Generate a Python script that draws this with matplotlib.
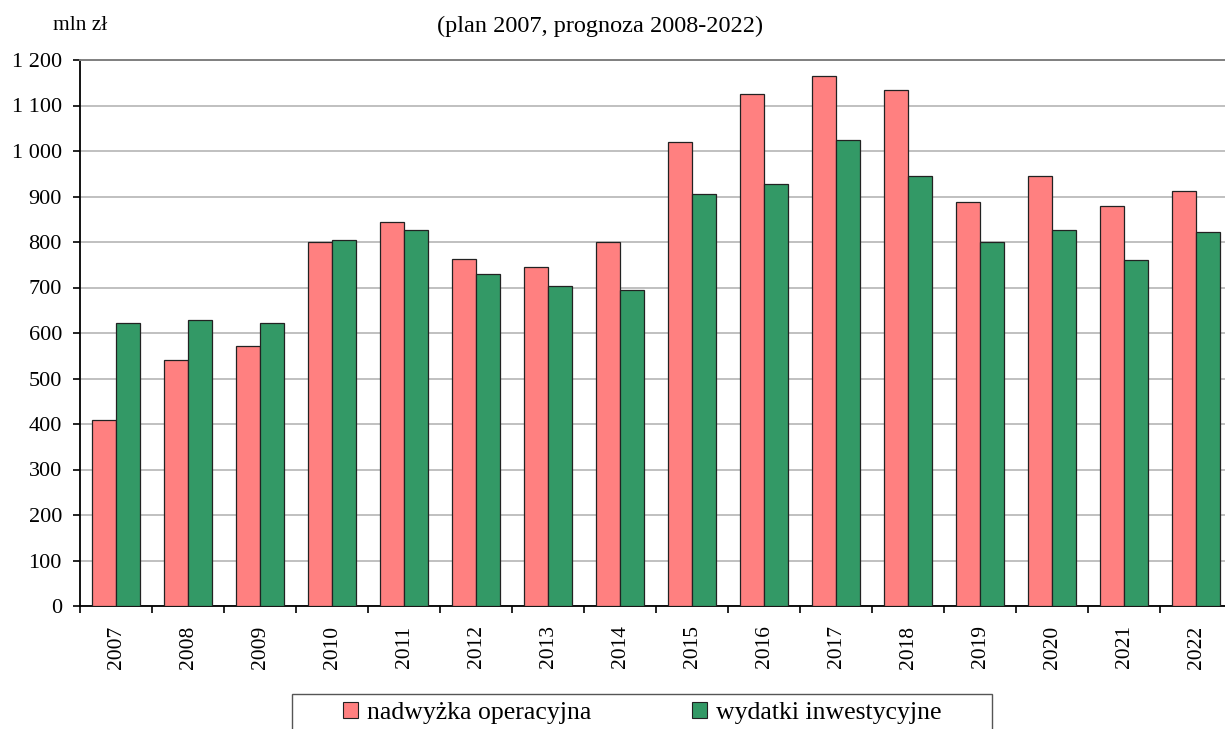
import matplotlib
matplotlib.use("Agg")
import matplotlib.pyplot as plt
import matplotlib.patches as mpatches
from matplotlib.ticker import FuncFormatter, FixedLocator
import numpy as np

years = ["2007", "2008", "2009", "2010", "2011", "2012", "2013", "2014",
         "2015", "2016", "2017", "2018", "2019", "2020", "2021", "2022"]
nadwyzka = [409, 541, 571, 800, 844, 762, 744, 801,
            1020, 1125, 1165, 1135, 888, 946, 880, 911]
wydatki = [623, 629, 623, 804, 826, 730, 703, 694,
           906, 928, 1025, 946, 800, 826, 761, 822]
series_labels = ["nadwyżka operacyjna", "wydatki inwestycyjne"]
title_text = "(plan 2007, prognoza 2008-2022)"
unit_text = "mln zł"

plt.rcParams['font.family'] = ['Liberation Serif', 'DejaVu Serif']

W, H = 1225, 729
fig = plt.figure(figsize=(W / 100, H / 100), dpi=100)
fig.patch.set_facecolor("white")

left, right, bottom, top = 80, 1232.5, 606, 60
ax = fig.add_axes([left / W, 1 - bottom / H, (right - left) / W, (bottom - top) / H])

x = np.arange(len(years))
w = 1 / 3
pink = "#FF8080"
green = "#339966"
edge = "#222222"
ax.bar(x - w / 2, nadwyzka, width=w, color=pink, edgecolor=edge, linewidth=0.9, zorder=3)
ax.bar(x + w / 2, wydatki, width=w, color=green, edgecolor=edge, linewidth=0.9, zorder=3)

ax.set_xlim(-0.5, len(years) - 0.5)
ax.set_ylim(0, 1200)
ax.set_yticks(np.arange(0, 1201, 100))
ax.yaxis.set_major_formatter(FuncFormatter(lambda v, p: f"{int(v):,}".replace(",", " ")))
ax.grid(axis="y", color="#C0C0C0", linewidth=1.4, zorder=0)
ax.set_axisbelow(True)

# x ticks: marks at category boundaries, labels at centers
ax.xaxis.set_major_locator(FixedLocator(np.arange(-0.5, len(years) + 0.5, 1)))
ax.xaxis.set_major_formatter(FuncFormatter(lambda v, p: ""))
ax.xaxis.set_minor_locator(FixedLocator(x))
ax.set_xticklabels(years, minor=True, rotation=90)
ax.tick_params(axis="x", which="major", direction="out", length=5, width=1.2, color="black")
ax.tick_params(axis="x", which="minor", length=0, pad=14, labelsize=15.5)
ax.tick_params(axis="y", direction="out", length=5, width=1.2, pad=8, labelsize=16)

ax.spines["right"].set_visible(False)
ax.spines["top"].set_color("#808080")
ax.spines["top"].set_linewidth(1.4)
for s in ["left", "bottom"]:
    ax.spines[s].set_color("black")
    ax.spines[s].set_linewidth(1.3)

fig.text(600 / W, 1 - 26 / H, title_text, ha="center", va="center", fontsize=17.5)
fig.text(53 / W, 1 - 26 / H, unit_text, ha="left", va="center", fontsize=15.5)

# legend
frame = mpatches.Rectangle((292 / W, -0.05), 700 / W, (H - 694) / H + 0.05,
                           transform=fig.transFigure, fill=False,
                           edgecolor="#555555", linewidth=1.0)
fig.patches.append(frame)
handles = [mpatches.Patch(facecolor=pink, edgecolor=edge, linewidth=0.8),
           mpatches.Patch(facecolor=green, edgecolor=edge, linewidth=0.8)]
fig.legend(handles, series_labels, ncol=2, loc="center left",
           bbox_to_anchor=(343 / W, 1 - 713 / H), frameon=False,
           borderpad=0, borderaxespad=0, handlelength=0.6, handleheight=0.6,
           handletextpad=0.35, columnspacing=3.9, fontsize=18.5)

fig.savefig("out.png", dpi=100)
